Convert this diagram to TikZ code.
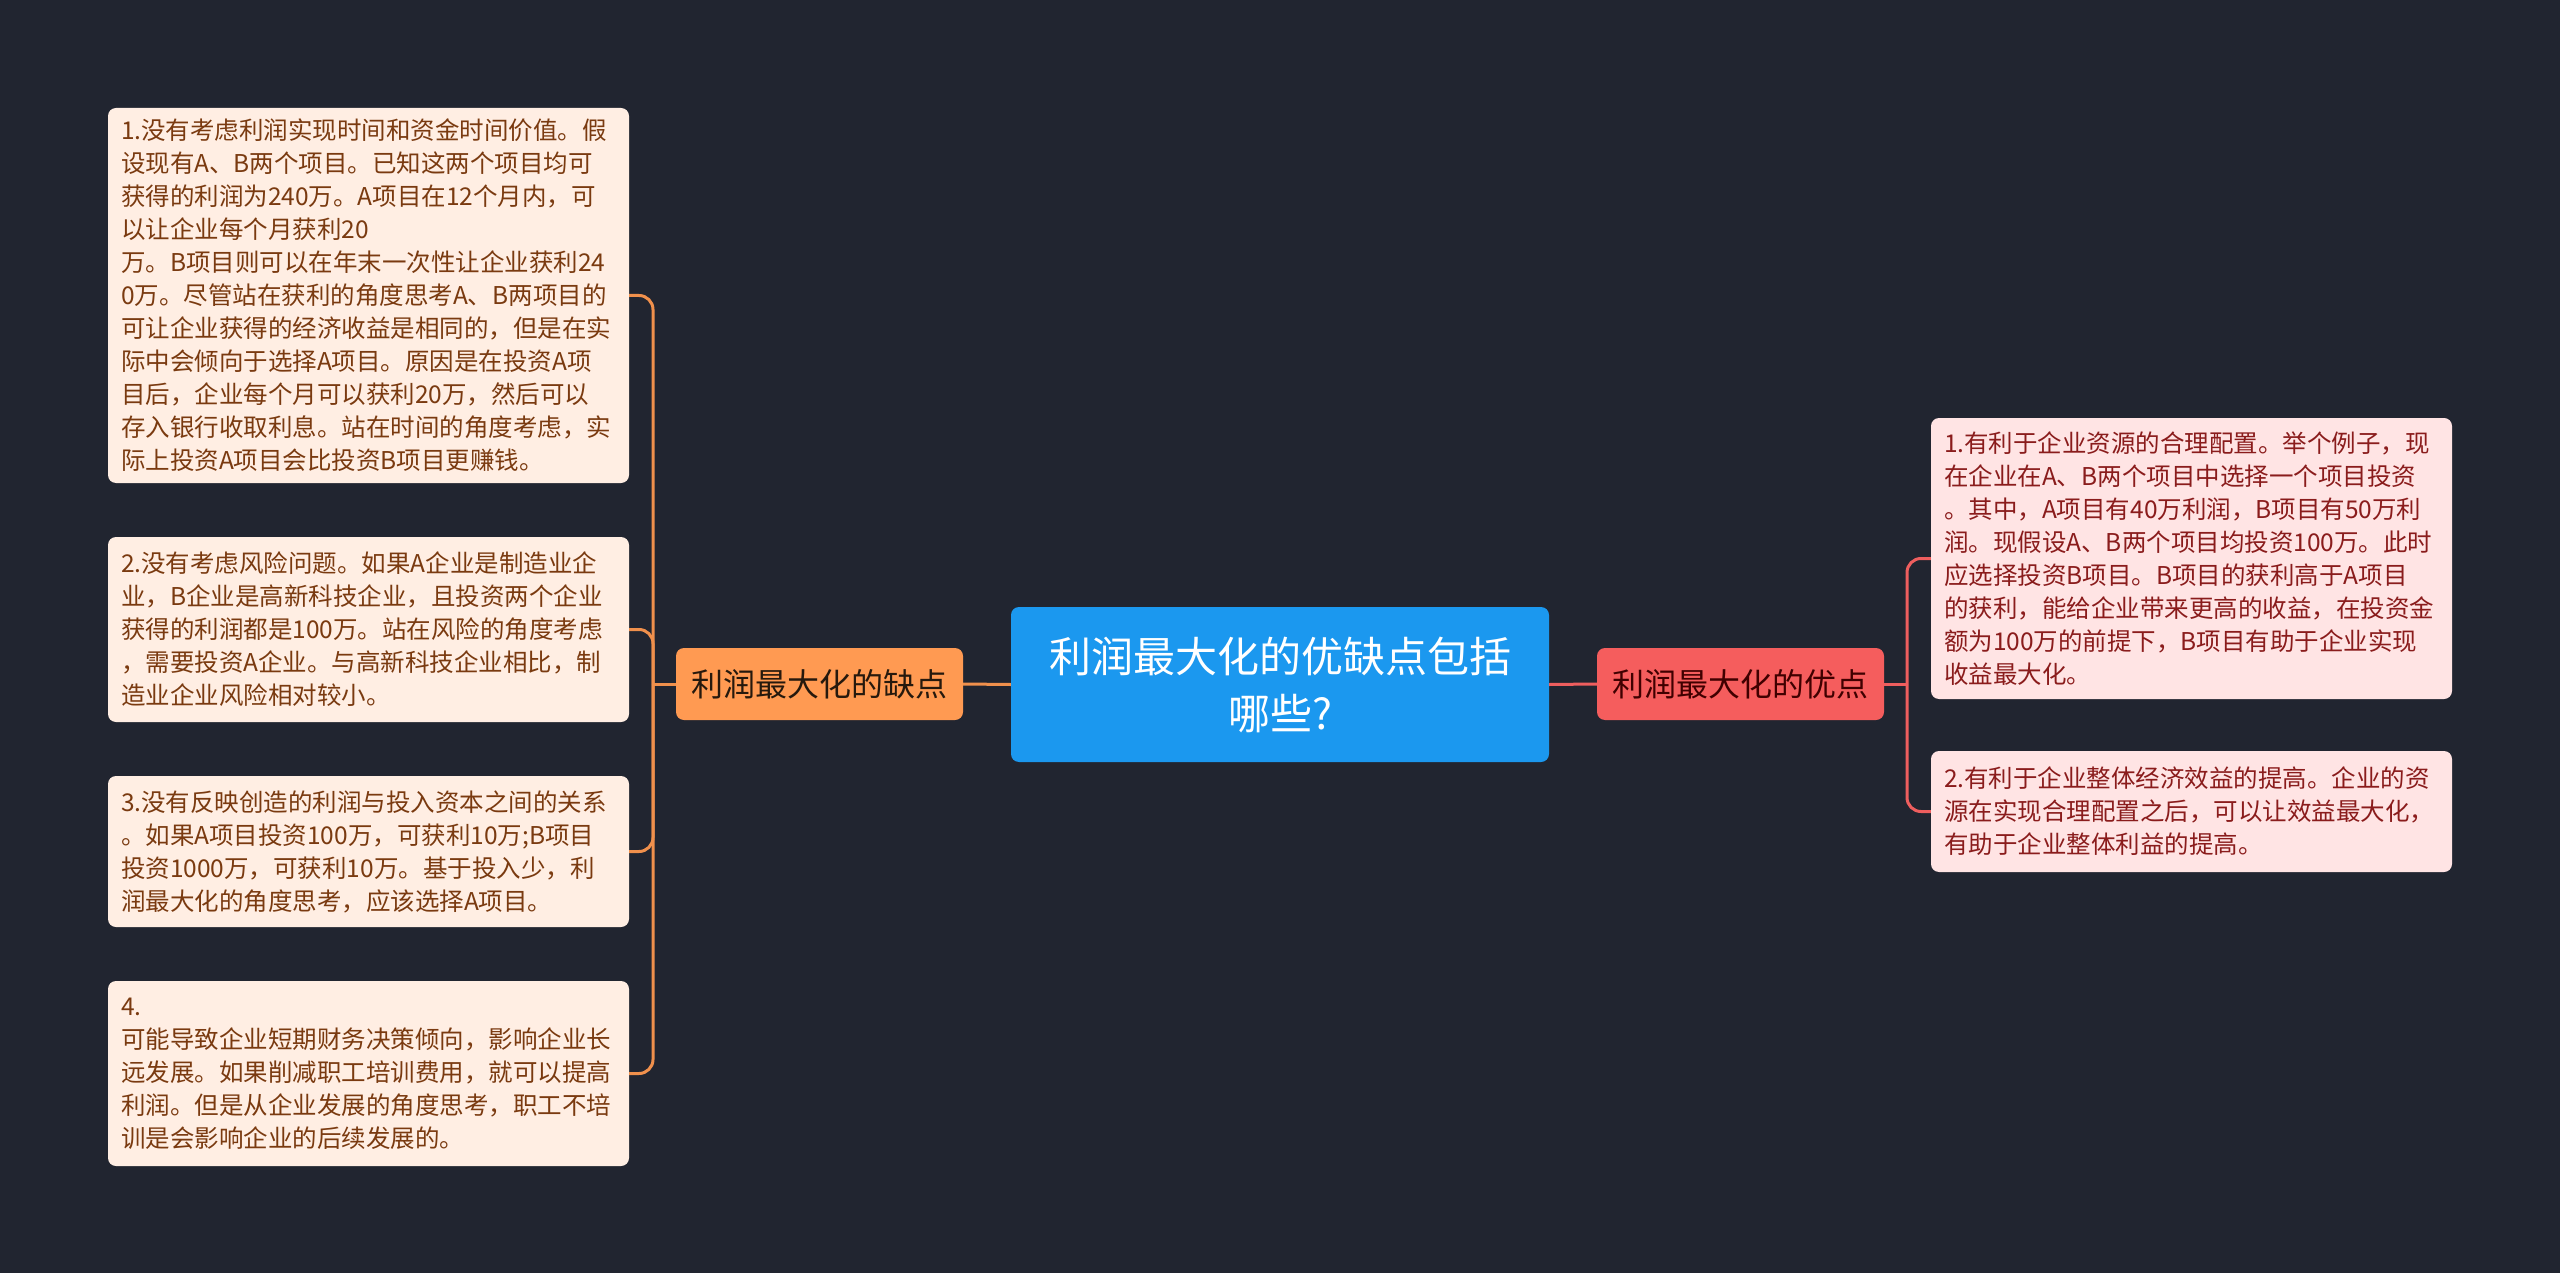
\documentclass[tikz,border=0pt]{standalone}
\usepackage{fontspec}
\setmainfont{Noto Sans CJK SC}
\definecolor{bgdark}{HTML}{212530}
\definecolor{rootblue}{HTML}{1B98EF}
\definecolor{consorange}{HTML}{FF9A52}
\definecolor{prosred}{HTML}{F55D5D}
\definecolor{consleaf}{HTML}{FFEEE3}
\definecolor{prosleaf}{HTML}{FFE4E4}
\definecolor{constext}{HTML}{7A3A10}
\definecolor{prostext}{HTML}{8A1C1C}
\definecolor{consline}{HTML}{F0904C}
\definecolor{prosline}{HTML}{EE5E5E}
\tikzset{
  rootbox/.style={fill=rootblue, text=white, rounded corners=8pt, minimum width=538pt, minimum height=155pt, align=center, font=\fontsize{42}{57}\selectfont},
  branchbox/.style={rounded corners=8pt, minimum width=287pt, minimum height=72pt, font=\fontsize{32}{40}\selectfont},
  leafbox/.style={rounded corners=8pt, text width=495pt, inner xsep=13pt, inner ysep=0pt, align=left, font=\fontsize{24.5}{33}\selectfont},
  consleafbox/.style={leafbox, fill=consleaf, text=constext},
  prosleafbox/.style={leafbox, fill=prosleaf, text=prostext},
  conslink/.style={draw=consline, line width=3pt},
  proslink/.style={draw=prosline, line width=3pt},
}
\begin{document}
\begin{tikzpicture}[x=1pt,y=-1pt]
    \fill[bgdark] (0,0) rectangle (2560,1273);
    \useasboundingbox (0,0) rectangle (2560,1273);

    % centre and the two branches
    \node[rootbox] (root) at (1280,684.5) {利润最大化的优缺点包括\\哪些?};
    \node[branchbox, fill=consorange, text=black!80!brown] (cons) at (819.5,684) {利润最大化的缺点};
    \node[branchbox, fill=prosred, text=black!75!red] (pros) at (1740.5,684) {利润最大化的优点};

    % left leaves
    \node[consleafbox, minimum height=375pt] (c1) at (368.5,295.5) {1.没有考虑利润实现时间和资金时间价值。假\\设现有A、B两个项目。已知这两个项目均可\\获得的利润为240万。A项目在12个月内，可\\以让企业每个月获利20\\万。B项目则可以在年末一次性让企业获利24\\0万。尽管站在获利的角度思考A、B两项目的\\可让企业获得的经济收益是相同的，但是在实\\际中会倾向于选择A项目。原因是在投资A项\\目后，企业每个月可以获利20万，然后可以\\存入银行收取利息。站在时间的角度考虑，实\\际上投资A项目会比投资B项目更赚钱。};
    \node[consleafbox, minimum height=185pt] (c2) at (368.5,629.5) {2.没有考虑风险问题。如果A企业是制造业企\\业，B企业是高新科技企业，且投资两个企业\\获得的利润都是100万。站在风险的角度考虑\\，需要投资A企业。与高新科技企业相比，制\\造业企业风险相对较小。};
    \node[consleafbox, minimum height=151pt] (c3) at (368.5,851.5) {3.没有反映创造的利润与投入资本之间的关系\\。如果A项目投资100万，可获利10万;B项目\\投资1000万，可获利10万。基于投入少，利\\润最大化的角度思考，应该选择A项目。};
    \node[consleafbox, minimum height=185pt] (c4) at (368.5,1073.5) {4.\\可能导致企业短期财务决策倾向，影响企业长\\远发展。如果削减职工培训费用，就可以提高\\利润。但是从企业发展的角度思考，职工不培\\训是会影响企业的后续发展的。};

    % right leaves
    \node[prosleafbox, minimum height=281pt] (p1) at (2191.5,558.5) {1.有利于企业资源的合理配置。举个例子，现\\在企业在A、B两个项目中选择一个项目投资\\。其中，A项目有40万利润，B项目有50万利\\润。现假设A、B两个项目均投资100万。此时\\应选择投资B项目。B项目的获利高于A项目\\的获利，能给企业带来更高的收益，在投资金\\额为100万的前提下，B项目有助于企业实现\\收益最大化。};
    \node[prosleafbox, minimum height=121pt] (p2) at (2191.5,811.5) {2.有利于企业整体经济效益的提高。企业的资\\源在实现合理配置之后，可以让效益最大化，\\有助于企业整体利益的提高。};

    % connectors
    \coordinate (consj) at (653,684);
    \coordinate (prosj) at (1907,684);
    \draw[conslink] (root.west) -- (cons.east);
    \draw[proslink] (root.east) -- (pros.west);
    \draw[conslink] (cons.west) -- (consj);
    \draw[proslink] (pros.east) -- (prosj);
    \foreach \leaf in {c1,c2,c3,c4}
        \draw[conslink, rounded corners=14pt] (consj) |- (\leaf.east);
    \foreach \leaf in {p1,p2}
        \draw[proslink, rounded corners=14pt] (prosj) |- (\leaf.west);
\end{tikzpicture}
\end{document}
